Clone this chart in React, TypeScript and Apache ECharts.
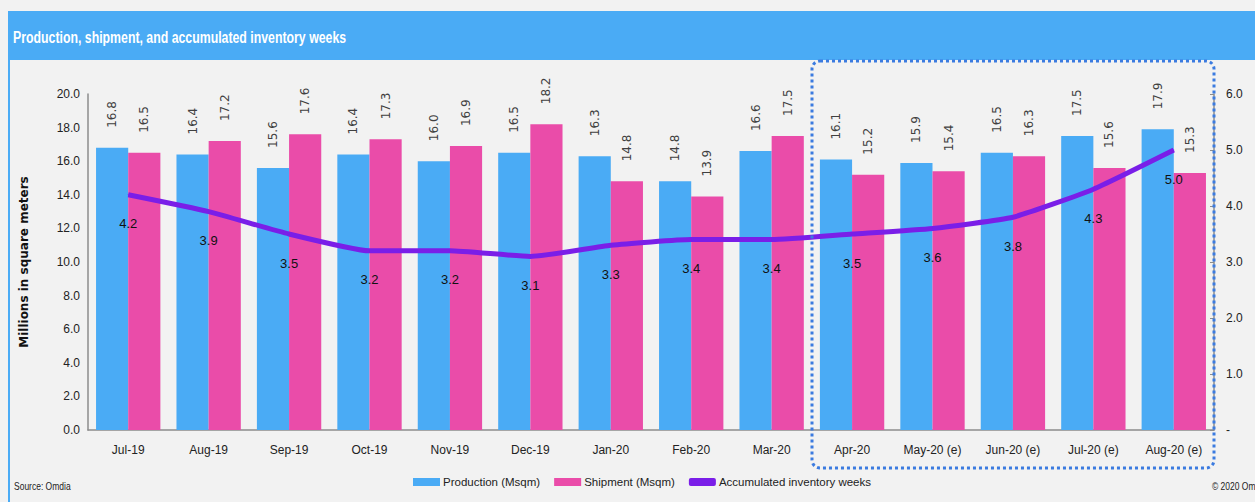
import React, { useEffect, useRef } from "react";
import * as echarts from "echarts";

const categories = ["Jul-19", "Aug-19", "Sep-19", "Oct-19", "Nov-19", "Dec-19", "Jan-20", "Feb-20", "Mar-20", "Apr-20", "May-20 (e)", "Jun-20 (e)", "Jul-20 (e)", "Aug-20 (e)"];
const production = [16.8, 16.4, 15.6, 16.4, 16.0, 16.5, 16.3, 14.8, 16.6, 16.1, 15.9, 16.5, 17.5, 17.9];
const shipment = [16.5, 17.2, 17.6, 17.3, 16.9, 18.2, 14.8, 13.9, 17.5, 15.2, 15.4, 16.3, 15.6, 15.3];
const inventoryWeeks = [4.2, 3.9, 3.5, 3.2, 3.2, 3.1, 3.3, 3.4, 3.4, 3.5, 3.6, 3.8, 4.3, 5.0];

const NARROW = "'Liberation Sans Narrow', 'Liberation Sans', Arial, sans-serif";

export default function App() {
  const ref = useRef<HTMLDivElement>(null);
  useEffect(() => {
    if (!ref.current) return;
    const chart = echarts.init(ref.current, null, { renderer: "svg" });
    const barLabel = {
      show: true,
      position: "top",
      rotate: 90,
      align: "left",
      verticalAlign: "middle",
      distance: 20,
      color: "#404040",
      fontSize: 12,
      fontFamily: "'DejaVu Sans', sans-serif",
      formatter: (p: any) => Number(p.value).toFixed(1),
    };
    chart.setOption({
      animation: false,
      backgroundColor: "#f2f2f2",
      graphic: [
        { type: "rect", shape: { x: 8, y: 11, width: 1247, height: 49 }, style: { fill: "#4aabf5" } },
        { type: "rect", shape: { x: 8, y: 60, width: 2, height: 442 }, style: { fill: "#4aabf5" } },
        {
          type: "text",
          x: 13,
          y: 37,
          scaleX: 0.77,
          style: { text: "Production, shipment, and accumulated inventory weeks", fill: "#ffffff", font: `bold 16px ${NARROW}`, verticalAlign: "middle" },
        },
        {
          type: "rect",
          shape: { x: 812, y: 61, width: 402, height: 407, r: 8 },
          style: { fill: "none", stroke: "#3b7be0", lineWidth: 3, lineDash: [3, 3] },
          z: 10,
        },
        {
          type: "text",
          x: 14,
          y: 487,
          scaleX: 0.85,
          style: { text: "Source: Omdia", fill: "#222", font: `10px ${NARROW}`, verticalAlign: "middle" },
        },
        {
          type: "text",
          x: 1212,
          y: 487,
          scaleX: 0.85,
          style: { text: "© 2020 Omdia", fill: "#222", font: `10px ${NARROW}`, verticalAlign: "middle" },
        },
      ],
      legend: {
        left: 408,
        top: 471,
        itemWidth: 27,
        itemHeight: 8,
        itemGap: 14,
        textStyle: { fontFamily: NARROW, fontSize: 11.5, color: "#222", padding: [0, 0, 0, -2] },
        data: [
          { name: "Production (Msqm)", icon: "rect" },
          { name: "Shipment (Msqm)", icon: "rect" },
          { name: "Accumulated inventory weeks", icon: "roundRect" },
        ],
      },
      grid: { left: 88, right: 41, top: 94, bottom: 72 },
      xAxis: {
        type: "category",
        data: categories,
        axisLine: { lineStyle: { color: "#8c8c8c", width: 1.5 } },
        axisTick: { show: false },
        axisLabel: { color: "#222", fontFamily: NARROW, fontSize: 12, margin: 14, interval: 0 },
      },
      yAxis: [
        {
          type: "value",
          min: 0,
          max: 20,
          interval: 2,
          name: "Millions in square meters",
          nameLocation: "middle",
          nameGap: 58,
          nameTextStyle: { fontFamily: "'DejaVu Sans', sans-serif", fontWeight: "bold", fontSize: 12, color: "#111" },
          axisLine: { show: true, lineStyle: { color: "#8c8c8c", width: 1.5 } },
          axisTick: { show: false },
          splitLine: { show: false },
          axisLabel: { color: "#222", fontFamily: NARROW, fontSize: 12, margin: 8, formatter: (v: number) => v.toFixed(1) },
        },
        {
          type: "value",
          min: 0,
          max: 6,
          interval: 1,
          position: "right",
          axisLine: { show: true, lineStyle: { color: "#8c8c8c", width: 1.5 } },
          axisTick: { show: true, inside: true, length: 4, lineStyle: { color: "#8c8c8c" } },
          splitLine: { show: false },
          axisLabel: { color: "#222", fontFamily: NARROW, fontSize: 12, margin: 12, formatter: (v: number) => (v === 0 ? "-" : v.toFixed(1)) },
        },
      ],
      series: [
        {
          name: "Production (Msqm)",
          type: "bar",
          data: production,
          barGap: "0%",
          barCategoryGap: "20%",
          itemStyle: { color: "#4aabf5" },
          label: barLabel,
        },
        {
          name: "Shipment (Msqm)",
          type: "bar",
          data: shipment,
          itemStyle: { color: "#ea4ca9" },
          label: barLabel,
        },
        {
          name: "Accumulated inventory weeks",
          type: "line",
          yAxisIndex: 1,
          data: inventoryWeeks,
          smooth: 0.15,
          symbol: "circle",
          symbolSize: 1,
          showSymbol: true,
          lineStyle: { color: "#7a1ee8", width: 5 },
          itemStyle: { color: "#7a1ee8" },
          z: 5,
          label: {
            show: true,
            position: "bottom",
            distance: 22,
            color: "#111",
            fontFamily: NARROW,
            fontSize: 13,
            formatter: (p: any) => Number(p.value).toFixed(1),
          },
          labelLayout: { hideOverlap: false },
        },
      ],
    });
    return () => chart.dispose();
  }, []);
  return (
    <div
      ref={ref}
      style={{ position: "absolute", left: 0, top: 0, width: 1255, height: 502, background: "#f2f2f2" }}
    />
  );
}
